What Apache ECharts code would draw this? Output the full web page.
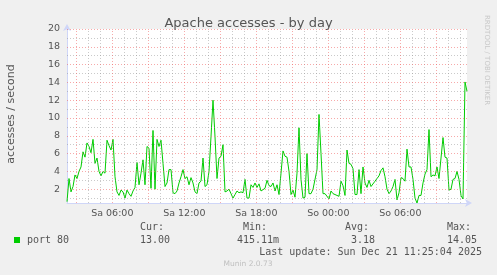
<!DOCTYPE html>
<html><head><meta charset="utf-8">
<script src="https://cdn.jsdelivr.net/npm/echarts@6/dist/echarts.min.js"></script>
<style>html,body{margin:0;padding:0;background:#F0F0F0}#c{width:497px;height:275px}</style>
</head><body><div id="c"></div>
<script>
// time axis in hours since Saturday 00:00
const startHour = 2.225;
const stepHours = 1 / 6;
const endHour = 35.558;
const accesses = [
 0.6,3.2,1.7,2.3,3.6,3.2,4.0,4.5,6.2,5.6,7.2,6.8,6.1,7.6,4.9,5.5,4.0,3.5,4.0,3.8,
 7.5,6.9,6.4,7.6,3.4,1.7,1.3,1.9,1.7,1.0,1.9,1.5,1.2,1.8,2.2,5.0,2.5,3.8,5.3,2.5,
 6.8,6.6,2.1,8.6,2.0,7.6,6.8,7.5,4.9,2.3,2.7,4.2,4.2,1.6,1.5,1.8,2.7,3.4,4.2,3.2,
 3.4,2.5,3.3,2.7,1.7,1.5,2.7,2.9,5.5,2.3,2.5,4.0,7.9,12.0,7.9,3.2,5.5,5.7,7.0,1.7,
 1.8,2.0,1.5,1.0,1.4,1.8,1.6,1.7,1.6,3.1,1.0,1.0,2.5,2.2,2.7,2.2,2.6,1.8,1.6,2.1,
 3.0,2.4,2.3,2.7,1.8,2.5,1.4,3.8,6.3,5.7,5.6,4.0,1.4,1.9,1.1,3.8,8.9,3.1,1.0,1.1,
 6.0,1.5,1.5,2.0,1.8,4.2,10.4,6.0,1.5,1.5,1.4,0.9,1.8,1.5,1.4,1.6,1.2,2.9,2.4,1.3,
 6.4,4.9,4.8,4.3,1.4,1.4,4.2,1.5,4.5,2.7,2.2,3.0,2.3,2.5,2.9,3.2,3.5,4.1,4.4,3.4,
 2.0,1.5,1.8,2.3,3.1,0.8,1.6,3.3,3.2,2.9,6.5,4.5,4.5,3.1,1.0,0.45,1.3,1.3,2.7,3.7,
 4.2,8.7,3.4,3.6,3.5,4.5,3.2,5.5,7.8,5.6,5.5,1.9,2.0,3.1,3.2,4.0,3.1,1.3,0.9,14.05,
 13.0
];
const xTickHours = [6, 12, 18, 24, 30];
const xTickLabels = ['Sa 06:00', 'Sa 12:00', 'Sa 18:00', 'So 00:00', 'So 06:00'];
const yTickValues = [2, 4, 6, 8, 10, 12, 14, 16, 18, 20];
const yMinorValues = [1, 3, 5, 7, 9, 11, 13, 15, 17, 19];
const xMajorHours = [3, 6, 9, 12, 15, 18, 21, 24, 27, 30, 33];
const xMinorHours = [4, 5, 7, 8, 10, 11, 13, 14, 16, 17, 19, 20, 22, 23, 25, 26, 28, 29, 31, 32, 34, 35];
const seriesName = 'port 80';
const statLabels = ['Cur:', 'Min:', 'Avg:', 'Max:'];
const statValues = ['13.00', '415.11m', '3.18', '14.05'];
const lastUpdate = 'Last update: Sun Dec 21 11:25:04 2025';

const seriesData = accesses.map((v, i) => [startHour + i * stepHours, v]);
const minorStyle = { color: 'rgba(150,150,150,0.5)', width: 1, type: [1, 2] };
const majorStyle = { color: 'rgba(240,100,100,0.55)', width: 1, type: [1, 2] };
const gridLines = [].concat(
  xMinorHours.map(h => ({ xAxis: h, lineStyle: minorStyle })),
  yMinorValues.map(v => ({ yAxis: v, lineStyle: minorStyle })),
  xMajorHours.map(h => ({ xAxis: h, lineStyle: majorStyle })),
  yTickValues.map(v => ({ yAxis: v, lineStyle: majorStyle }))
);

const mono = 'DejaVu Sans Mono';
const sans = 'DejaVu Sans';
const textColor = '#555';
const statX = [140, 243, 345, 447];
const statValX = [140, 237, 351, 447];
const graphics = [
  { type: 'text', x: 11, y: 114, rotation: Math.PI / 2,
    style: { text: 'accesses / second', fill: textColor, font: '11px ' + sans, textAlign: 'center', textVerticalAlign: 'middle' } },
  { type: 'text', x: 487, y: 15, rotation: -Math.PI / 2,
    style: { text: 'RRDTOOL / TOBI OETIKER', fill: '#c8c8c8', font: '7px ' + sans, textAlign: 'left', textVerticalAlign: 'middle' } },
  { type: 'rect', shape: { x: 14, y: 237, width: 6, height: 6 }, style: { fill: '#00CC00' } },
  { type: 'text', x: 27, y: 240, style: { text: seriesName, fill: textColor, font: '10px ' + mono, textVerticalAlign: 'middle' } },
  { type: 'text', x: 482, y: 252, style: { text: lastUpdate, fill: textColor, font: '10px ' + mono, textAlign: 'right', textVerticalAlign: 'middle' } },
  { type: 'text', x: 248, y: 264, style: { text: 'Munin 2.0.73', fill: '#c0c0c0', font: '7.5px ' + sans, textAlign: 'center', textVerticalAlign: 'middle' } }
];
statLabels.forEach((t, i) => graphics.push({ type: 'text', x: statX[i], y: 227, style: { text: t, fill: textColor, font: '10px ' + mono, textVerticalAlign: 'middle' } }));
statValues.forEach((t, i) => graphics.push({ type: 'text', x: statValX[i], y: 240, style: { text: t, fill: textColor, font: '10px ' + mono, textVerticalAlign: 'middle' } }));

const chart = echarts.init(document.getElementById('c'));
chart.setOption({
  animation: false,
  backgroundColor: '#F0F0F0',
  title: { text: 'Apache accesses - by day', left: 'center', top: 12,
    textStyle: { fontFamily: sans, fontSize: 13, fontWeight: 'normal', color: textColor } },
  grid: { left: 67, right: 30, top: 29, bottom: 72, show: true, backgroundColor: '#FFFFFF', borderWidth: 0 },
  xAxis: {
    type: 'value', min: startHour, max: endHour,
    axisLine: { show: true, onZero: false, lineStyle: { color: '#CFD6F8' }, symbol: ['none', 'arrow'], symbolSize: [6, 7], symbolOffset: [0, 5] },
    axisTick: { show: false }, splitLine: { show: false },
    axisLabel: { customValues: xTickHours, margin: 6, color: textColor, fontFamily: sans, fontSize: 9.5,
      formatter: v => xTickLabels[xTickHours.indexOf(v)] || '' }
  },
  yAxis: {
    type: 'value', min: 0.45, max: 20,
    axisLine: { show: true, lineStyle: { color: '#CFD6F8' }, symbol: ['none', 'arrow'], symbolSize: [6, 7], symbolOffset: [0, 5] },
    axisTick: { show: false }, splitLine: { show: false },
    axisLabel: { customValues: yTickValues, margin: 7, color: textColor, fontFamily: sans, fontSize: 9.5 }
  },
  series: [
    { type: 'line', data: [], silent: true, z: 1,
      markLine: { silent: true, animation: false, symbol: ['none', 'none'], label: { show: false }, data: gridLines } },
    { name: seriesName, type: 'line', data: seriesData, showSymbol: false, z: 3,
      lineStyle: { color: '#00CC00', width: 1 }, itemStyle: { color: '#00CC00' } }
  ],
  graphic: graphics
});
</script></body></html>
